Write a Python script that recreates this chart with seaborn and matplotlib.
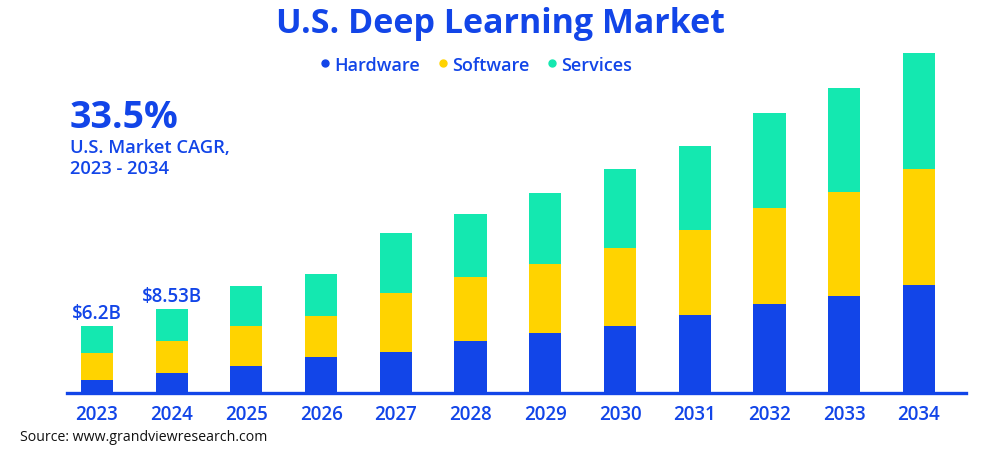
import matplotlib
matplotlib.use("Agg")
import matplotlib.pyplot as plt
import seaborn as sns
import pandas as pd
import numpy as np
from matplotlib.lines import Line2D

years = ["2023", "2024", "2025", "2026", "2027", "2028", "2029", "2030", "2031", "2032", "2033", "2034"]
hardware = [1.22, 1.87, 2.51, 3.34, 3.74, 4.79, 5.49, 6.20, 7.15, 8.16, 8.96, 9.97]
software = [2.49, 2.95, 3.68, 3.78, 5.47, 5.86, 6.42, 7.18, 7.80, 8.81, 9.49, 10.59]
services = [2.49, 2.95, 3.68, 3.87, 5.53, 5.77, 6.47, 7.18, 7.74, 8.75, 9.55, 10.68]
value_labels = {"2023": "$6.2B", "2024": "$8.53B"}

BLUE = "#1245E8"
YELLOW = "#FFD300"
TEAL = "#14E8B0"
FONT = "Open Sans"

sns.set_theme(style="white")
plt.rcParams["font.family"] = [FONT, "DejaVu Sans"]

df = pd.DataFrame({"year": years, "hw": hardware, "sw": software, "sv": services})
df["hw_sw"] = df["hw"] + df["sw"]
df["total"] = df["hw_sw"] + df["sv"]

fig = plt.figure(figsize=(10, 4.52), dpi=100)
ax = fig.add_axes([0.067, 0.128, 0.899, 0.7836])

sns.barplot(data=df, x="year", y="total", color=TEAL, width=0.43, ax=ax, saturation=1, linewidth=0)
sns.barplot(data=df, x="year", y="hw_sw", color=YELLOW, width=0.43, ax=ax, saturation=1, linewidth=0)
sns.barplot(data=df, x="year", y="hw", color=BLUE, width=0.43, ax=ax, saturation=1, linewidth=0)

ax.set_xlim(-0.40, 11.63)
ax.set_ylim(0, 32.54)
ax.set_xlabel("")
ax.set_ylabel("")
ax.set_yticks([])
for s in ["top", "right", "left"]:
    ax.spines[s].set_visible(False)
ax.spines["bottom"].set_color(BLUE)
ax.spines["bottom"].set_linewidth(2.4)
ax.tick_params(axis="x", length=0, pad=7.5, labelsize=13.5, labelcolor=BLUE)
for lbl in ax.get_xticklabels():
    lbl.set_fontweight("semibold")

for i, y in enumerate(years):
    if y in value_labels:
        ax.text(i, df["total"][i] + 0.25, value_labels[y], ha="center", va="bottom",
                fontsize=13.5, color=BLUE, fontweight="semibold")

fig.text(0.5, 0.946, "U.S. Deep Learning Market", ha="center", va="center",
         fontsize=24.5, fontweight="bold", color=BLUE)

handles = [Line2D([0], [0], marker="o", linestyle="", markersize=5, color=c)
           for c in [BLUE, YELLOW, TEAL]]
leg = fig.legend(handles, ["Hardware", "Software", "Services"], ncol=3, frameon=False,
                 loc="center", bbox_to_anchor=(0.474, 0.855), fontsize=13,
                 handletextpad=0.0, columnspacing=0.75, handlelength=1.0)
for t in leg.get_texts():
    t.set_color(BLUE)
    t.set_fontweight("semibold")

fig.text(0.07, 0.740, "33.5%", ha="left", va="center", fontsize=27, fontweight="bold", color=BLUE)
fig.text(0.07, 0.673, "U.S. Market CAGR,", ha="left", va="center", fontsize=13.2,
         fontweight="semibold", color=BLUE)
fig.text(0.07, 0.626, "2023 - 2034", ha="left", va="center", fontsize=13.2,
         fontweight="semibold", color=BLUE)

fig.text(0.02, 0.032, "Source: www.grandviewresearch.com", ha="left", va="center",
         fontsize=10.2, color="#111111")

fig.savefig("out.png", dpi=100, facecolor="white")
